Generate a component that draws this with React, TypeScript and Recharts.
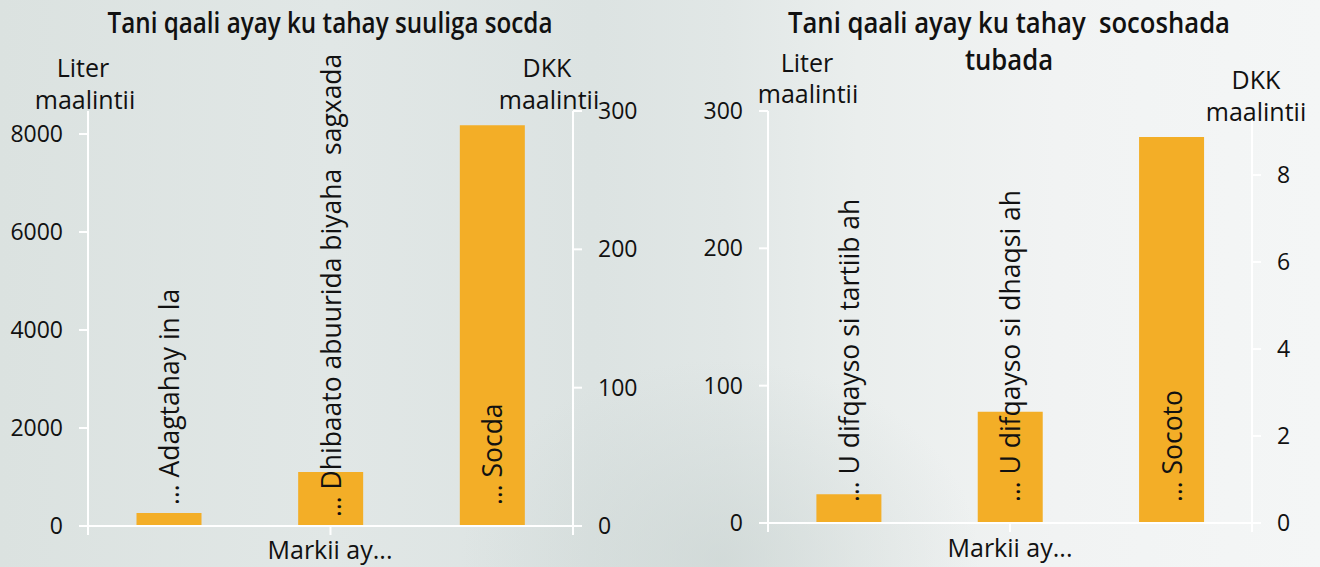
import React from 'react';
import { BarChart, Bar, XAxis, YAxis, LabelList } from 'recharts';

// ---------- data ----------
const leftTitle = 'Tani qaali ayay ku tahay suuliga socda';
const leftCategories = ['… Adagtahay in la', '… Dhibaato abuurida biyaha  sagxada', '… Socda'];
const leftLiters = [265, 1100, 8180];
const leftLiterTicks = [0, 2000, 4000, 6000, 8000];
const leftDkkTicks = [0, 100, 200, 300];

const rightTitle1 = 'Tani qaali ayay ku tahay  socoshada';
const rightTitle2 = 'tubada';
const rightCategories = ['… U difqayso si tartiib ah', '… U difqayso si dhaqsi ah', '… Socoto'];
const rightLiters = [21, 81, 281];
const rightLiterTicks = [0, 100, 200, 300];
const rightDkkTicks = [0, 2, 4, 6, 8];

const unitLeft = ['Liter', 'maalintii'];
const unitRight = ['DKK', 'maalintii'];
const xLabel = 'Markii ay...';
const edgeTicks = [0, 1, 2, 3];

// ---------- styles ----------
const BAR = '#F3AE27';
const AXIS = '#ffffff';
const TEXT = '#111111';
const FONT = "'Open Sans', 'Noto Sans', sans-serif";
const LABEL_FONT_SIZE = 26.5;
const TITLE_SIZE = 28;

const leftData = leftCategories.map((name, i) => ({ name, v: leftLiters[i] }));
const rightData = rightCategories.map((name, i) => ({ name, v: rightLiters[i] }));

let ctx: CanvasRenderingContext2D | null = null;
function measure(s: string, font: string): number {
  if (typeof document === 'undefined') return s.length * 12;
  if (!ctx) ctx = document.createElement('canvas').getContext('2d');
  if (!ctx) return s.length * 12;
  ctx.font = font;
  return ctx.measureText(s).width;
}

const CatLabel = (props: any) => {
  const vb = props.viewBox || props;
  const x = Number(vb.x ?? props.x);
  const y = Number(vb.y ?? props.y);
  const w = Number(vb.width ?? props.width);
  const h = Number(vb.height ?? props.height);
  const value = String(props.value ?? '');
  const cx = x + w / 2;
  const base = y + h;
  let start = base - 21;
  const len = measure(value, `${LABEL_FONT_SIZE}px 'Open Sans'`);
  const topLimit = 57;
  if (start - len < topLimit) start = Math.min(base - 9, topLimit + len);
  return (
    <text
      x={cx}
      y={start}
      transform={`rotate(-90, ${cx}, ${start})`}
      textAnchor="start"
      dominantBaseline="central"
      fontFamily={FONT}
      fontSize={LABEL_FONT_SIZE}
      fill={TEXT}
      style={{ whiteSpace: 'pre' }}
    >
      {value}
    </text>
  );
};

const tickStyle = { fill: TEXT, fontSize: 23, fontFamily: FONT };

const abs = (left: number, top: number, extra: any = {}): React.CSSProperties => ({
  position: 'absolute',
  left,
  top,
  transform: 'translateX(-50%)',
  whiteSpace: 'pre',
  color: TEXT,
  fontFamily: FONT,
  lineHeight: 1,
  ...extra,
});

function Title(props: { text: string; cx: number; top: number; scale: number }) {
  return (
    <div
      style={abs(props.cx, props.top, {
        fontSize: TITLE_SIZE,
        fontWeight: 600,
        transform: `translateX(-50%) scaleX(${props.scale})`,
        transformOrigin: 'center',
      })}
    >
      {props.text}
    </div>
  );
}

function Panel(props: {
  data: any[];
  yMax: number;
  yTicks: number[];
  y2Max: number;
  y2Ticks: number[];
  leftW: number;
  rightW: number;
  xH: number;
}) {
  const { data, yMax, yTicks, y2Max, y2Ticks, leftW, rightW, xH } = props;
  return (
    <BarChart
      width={660}
      height={567}
      data={data}
      margin={{ top: 111, right: 0, bottom: 0, left: 0 }}
      barCategoryGap="30%"
    >
      <XAxis xAxisId="cat" dataKey="name" hide height={0} />
      <XAxis
        xAxisId="edge"
        type="number"
        domain={[0, 3]}
        ticks={edgeTicks}
        allowDataOverflow
        height={xH}
        tickFormatter={() => ''}
        tickSize={9}
        axisLine={{ stroke: AXIS, strokeWidth: 2 }}
        tickLine={{ stroke: AXIS, strokeWidth: 2 }}
      />
      <YAxis
        yAxisId="l"
        orientation="left"
        width={leftW}
        domain={[0, yMax]}
        ticks={yTicks}
        allowDataOverflow
        interval={0}
        tickSize={9}
        tickMargin={16}
        tick={tickStyle}
        axisLine={{ stroke: AXIS, strokeWidth: 2 }}
        tickLine={{ stroke: AXIS, strokeWidth: 2 }}
      />
      <YAxis
        yAxisId="r"
        orientation="right"
        width={rightW}
        domain={[0, y2Max]}
        ticks={y2Ticks}
        allowDataOverflow
        interval={0}
        tickSize={9}
        tickMargin={16}
        tick={tickStyle}
        axisLine={{ stroke: AXIS, strokeWidth: 2 }}
        tickLine={{ stroke: AXIS, strokeWidth: 2 }}
      />
      <Bar xAxisId="cat" yAxisId="l" dataKey="v" fill={BAR} isAnimationActive={false}>
        <LabelList dataKey="name" content={CatLabel} />
      </Bar>
    </BarChart>
  );
}

export default function App() {
  const tFont = `600 ${TITLE_SIZE}px 'Open Sans'`;
  const sLeft = 445 / measure(leftTitle, tFont);
  const sRight = 442 / measure(rightTitle1, tFont);
  return (
    <div
      style={{
        position: 'absolute',
        left: 0,
        top: 0,
        width: 1320,
        height: 567,
        overflow: 'hidden',
        background:
          'radial-gradient(ellipse 260px 200px at 720px 560px, rgba(200,210,208,0.6), rgba(200,210,208,0) 100%), linear-gradient(90deg, #dbe2e0 0%, #e1e7e6 25%, #dce3e2 45%, #e1e7e6 55%, #eaeeed 65%, #f1f3f3 80%, #f4f6f6 100%)',
      }}
    >
      <div style={{ position: 'absolute', left: 0, top: 0 }}>
        <Panel
          data={leftData}
          yMax={8470}
          yTicks={leftLiterTicks}
          y2Max={300}
          y2Ticks={leftDkkTicks}
          leftW={88}
          rightW={87}
          xH={41}
        />
      </div>
      <div style={{ position: 'absolute', left: 660, top: 0 }}>
        <Panel
          data={rightData}
          yMax={300}
          yTicks={rightLiterTicks}
          y2Max={9.47}
          y2Ticks={rightDkkTicks}
          leftW={108}
          rightW={68}
          xH={44}
        />
      </div>

      {/* titles */}
      <Title text={leftTitle} cx={330} top={8} scale={sLeft} />
      <Title text={rightTitle1} cx={1009} top={8} scale={sRight} />
      <Title text={rightTitle2} cx={1009} top={45} scale={sRight} />

      {/* unit labels left chart */}
      <div style={abs(83, 55, { fontSize: 25 })}>{unitLeft[0]}</div>
      <div style={abs(85, 87, { fontSize: 25 })}>{unitLeft[1]}</div>
      <div style={abs(547, 55, { fontSize: 25 })}>{unitRight[0]}</div>
      <div style={abs(549, 87, { fontSize: 25 })}>{unitRight[1]}</div>

      {/* unit labels right chart */}
      <div style={abs(807, 50, { fontSize: 25 })}>{unitLeft[0]}</div>
      <div style={abs(808, 81, { fontSize: 25 })}>{unitLeft[1]}</div>
      <div style={abs(1256, 67, { fontSize: 25 })}>{unitRight[0]}</div>
      <div style={abs(1256, 99, { fontSize: 25 })}>{unitRight[1]}</div>

      {/* x labels */}
      <div style={abs(330, 537, { fontSize: 25 })}>{xLabel}</div>
      <div style={abs(1010, 535, { fontSize: 25 })}>{xLabel}</div>
    </div>
  );
}
